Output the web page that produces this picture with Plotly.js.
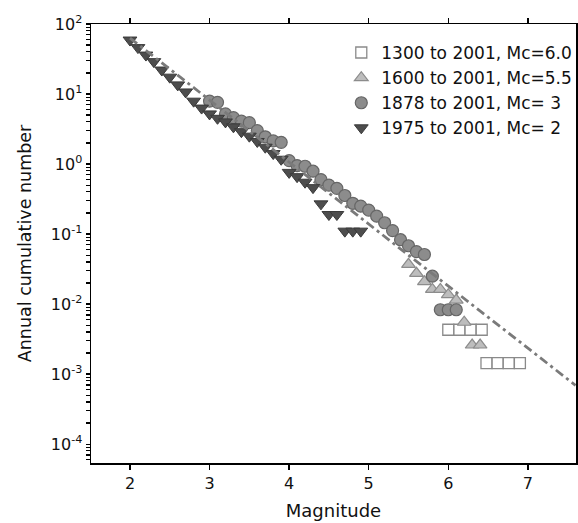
<!DOCTYPE html>
<html>
<head>
<meta charset="utf-8">
<script src="https://cdn.plot.ly/plotly-3.0.1.min.js"></script>
<style>html,body{margin:0;padding:0;background:#fff;}#chart{width:578px;height:523px;}</style>
</head>
<body>
<div id="chart"></div>
<script>
// Series: 1300 to 2001, Mc=6.0
const mag1300 = [6.0, 6.14, 6.28, 6.42, 6.48, 6.62, 6.76, 6.9];
const num1300 = [0.0043, 0.0043, 0.0043, 0.0043, 0.00143, 0.00143, 0.00143, 0.00143];
// Series: 1600 to 2001, Mc=5.5
const mag1600 = [5.5, 5.6, 5.7, 5.8, 5.9, 6.0, 6.1, 6.2, 6.3, 6.4];
const num1600 = [0.037, 0.0275, 0.0209, 0.0162, 0.0162, 0.0136, 0.0114, 0.0055, 0.0026, 0.0026];
// Series: 1878 to 2001, Mc=3
const mag1878 = [3.0, 3.1, 3.2, 3.3, 3.4, 3.5, 3.6, 3.7, 3.8, 3.9, 4.0, 4.1, 4.2, 4.3, 4.4, 4.5, 4.6, 4.7, 4.8, 4.9, 5.0, 5.1, 5.2, 5.3, 5.4, 5.5, 5.6, 5.7, 5.8, 5.9, 6.0, 6.1];
const num1878 = [7.9, 7.6, 5.2, 4.6, 4.1, 3.9, 3.0, 2.45, 2.14, 2.04, 1.12, 0.95, 0.93, 0.79, 0.60, 0.50, 0.45, 0.355, 0.275, 0.25, 0.22, 0.18, 0.145, 0.112, 0.083, 0.068, 0.056, 0.051, 0.025, 0.0083, 0.0083, 0.0083];
// Series: 1975 to 2001, Mc=2
const mag1975 = [2.0, 2.1, 2.2, 2.3, 2.4, 2.5, 2.6, 2.7, 2.8, 2.9, 3.0, 3.1, 3.2, 3.3, 3.4, 3.5, 3.6, 3.7, 3.8, 3.9, 4.0, 4.1, 4.2, 4.3, 4.4, 4.5, 4.6, 4.7, 4.8, 4.9];
const num1975 = [59, 46, 36, 29, 22, 17.4, 13.5, 10.7, 7.9, 6.3, 5.2, 4.5, 4.0, 3.4, 2.9, 2.5, 2.1, 1.74, 1.41, 1.17, 0.76, 0.66, 0.55, 0.46, 0.27, 0.19, 0.19, 0.11, 0.11, 0.11];
// Fitted Gutenberg-Richter line (endpoints)
const fitMag = [2.0, 7.6];
const fitNum = [63, 0.00069];

const labels = ['1300 to 2001, Mc=6.0', '1600 to 2001, Mc=5.5', '1878 to 2001, Mc= 3', '1975 to 2001, Mc= 2'];

// Axis ticks
const xTickVals = [2, 3, 4, 5, 6, 7];
const yExponents = [-5, -4, -3, -2, -1, 0, 1, 2];
const yTickVals = [];
const yTickText = [];
yExponents.forEach(e => {
  for (let k = 1; k <= 9; k++) {
    yTickVals.push(k * Math.pow(10, e));
    yTickText.push(k === 1 ? '10<sup>' + e + '</sup>' : '');
  }
});
const yRange = [-4.27, 2.0];

const FONT = 'DejaVu Sans, Arial, sans-serif';

const traces = [
  {x: mag1300, y: num1300, name: labels[0], type: 'scatter', mode: 'markers',
   marker: {symbol: 'square', size: 11, color: '#ffffff', line: {color: '#8a8a8a', width: 1.3}}},
  {x: mag1600, y: num1600, name: labels[1], type: 'scatter', mode: 'markers',
   marker: {symbol: 'triangle-up', size: 12, color: '#bdbdbd', line: {color: '#8c8c8c', width: 1.2}}},
  {x: mag1878, y: num1878, name: labels[2], type: 'scatter', mode: 'markers',
   marker: {symbol: 'circle', size: 12, color: '#8c8c8c', line: {color: '#666666', width: 1.2}}},
  {x: mag1975, y: num1975, name: labels[3], type: 'scatter', mode: 'markers',
   marker: {symbol: 'triangle-down', size: 12, color: '#4d4d4d', line: {color: '#3a3a3a', width: 1}}},
  {x: fitMag, y: fitNum, type: 'scatter', mode: 'lines', showlegend: false, hoverinfo: 'skip',
   line: {color: '#7a7a7a', width: 2.8, dash: '9px,4px,3px,4px'}}
];

const layout = {
  width: 578, height: 523,
  margin: {l: 91, r: 1, t: 24, b: 60},
  paper_bgcolor: '#ffffff', plot_bgcolor: '#ffffff',
  font: {family: FONT, size: 16, color: '#111'},
  showlegend: true,
  legend: {x: 0.515, y: 0.975, xanchor: 'left', yanchor: 'top', bgcolor: 'rgba(255,255,255,0)',
           font: {family: FONT, size: 17, color: '#111'}},
  xaxis: {
    range: [1.51, 7.605], tickmode: 'array', tickvals: xTickVals,
    showgrid: false, zeroline: false, showline: true, linecolor: '#000', linewidth: 1.5,
    mirror: 'ticks', ticks: 'outside', ticklen: 5, tickwidth: 1.5, tickcolor: '#000',
    tickfont: {family: FONT, size: 16, color: '#111'},
    title: {text: 'Magnitude', font: {family: FONT, size: 18, color: '#111'}, standoff: 12}
  },
  yaxis: {
    type: 'log', range: yRange, tickmode: 'array', tickvals: yTickVals, ticktext: yTickText,
    showgrid: false, zeroline: false, showline: true, linecolor: '#000', linewidth: 1.5,
    mirror: 'ticks', ticks: 'outside', ticklen: 4, tickwidth: 1.2, tickcolor: '#000',
    tickfont: {family: FONT, size: 16, color: '#111'},
    title: {text: 'Annual cumulative number', font: {family: FONT, size: 17.5, color: '#111'}, standoff: 14}
  }
};

Plotly.newPlot('chart', traces, layout, {displayModeBar: false, staticPlot: true});
</script>
</body>
</html>
